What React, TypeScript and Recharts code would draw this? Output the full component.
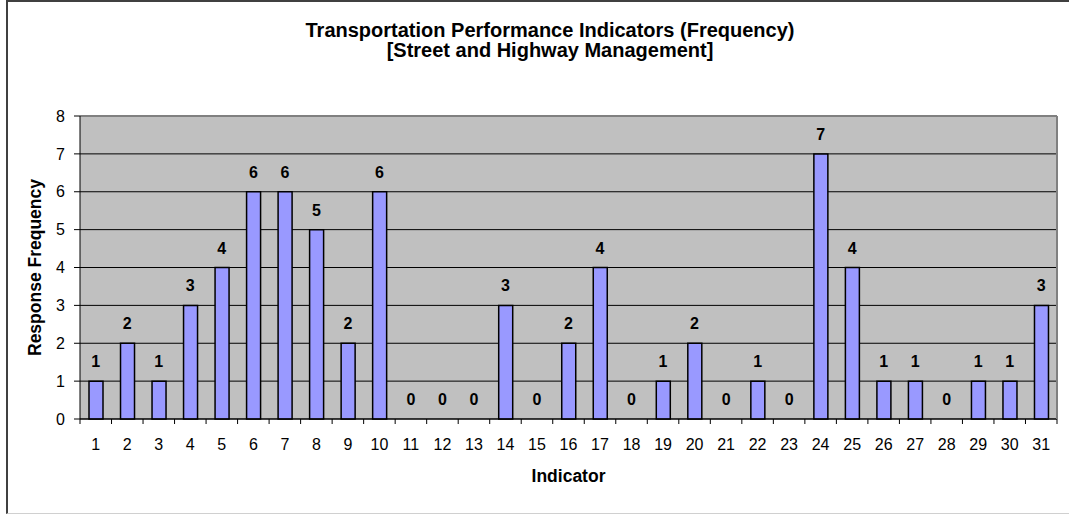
import React from 'react';
import { ComposedChart, Bar, Line, XAxis, YAxis, CartesianGrid, LabelList, ReferenceLine } from 'recharts';

const indicators = [1, 2, 3, 4, 5, 6, 7, 8, 9, 10, 11, 12, 13, 14, 15, 16, 17, 18, 19, 20, 21, 22, 23, 24, 25, 26, 27, 28, 29, 30, 31];
const frequency = [1, 2, 1, 3, 4, 6, 6, 5, 2, 6, 0, 0, 0, 3, 0, 2, 4, 0, 1, 2, 0, 1, 0, 7, 4, 1, 1, 0, 1, 1, 3];
const yTicks = [0, 1, 2, 3, 4, 5, 6, 7, 8];

const data = indicators.map((indicator, i) => ({ indicator, frequency: frequency[i] }));

// labels sit on the whole numbers, tick marks on the boundaries between them
const xTicks: number[] = [];
for (let i = 0; i <= indicators.length; i++) {
  xTicks.push(i + 0.5);
  if (i < indicators.length) xTicks.push(indicators[i]);
}

const FONT = '"Liberation Sans", Arial, sans-serif';
const TICK_MARGIN = 20;

const IndicatorTick = (props: any) => {
  const { x, y, payload } = props;
  const v = payload.value;
  if (Number.isInteger(v)) {
    return (
      <text x={x} y={y} dy="0.71em" textAnchor="middle" fontSize={16} fontFamily={FONT} fill="#000">
        {v}
      </text>
    );
  }
  return <line x1={x} x2={x} y1={y - TICK_MARGIN} y2={y - TICK_MARGIN + 5} stroke="#000" strokeWidth={1} />;
};

const App = () => {
  return (
    <div style={{ position: 'absolute', left: 0, top: 0, width: 1069, height: 515, background: '#fff', fontFamily: FONT }}>
      <div
        style={{
          position: 'absolute',
          left: 6,
          top: 0,
          width: 1063,
          height: 514,
          borderTop: '2px solid #404040',
          borderLeft: '2px solid #404040',
          borderBottom: '1px solid #d0d0d0',
          boxSizing: 'border-box',
        }}
      />
      <div
        style={{
          position: 'absolute',
          left: 30,
          top: 20,
          width: 1040,
          textAlign: 'center',
          fontSize: 20,
          lineHeight: '20px',
          fontWeight: 'bold',
          color: '#000',
        }}
      >
        Transportation Performance Indicators (Frequency)
        <br />
        [Street and Highway Management]
      </div>
      <ComposedChart
        width={1069}
        height={515}
        data={data}
        margin={{ top: 116, right: 11, bottom: 26, left: 0 }}
        style={{ position: 'absolute', left: 0, top: 0 }}
      >
        <CartesianGrid vertical={false} fill="#C0C0C0" stroke="#000" strokeWidth={1} />
        <XAxis
          dataKey="indicator"
          type="number"
          domain={[0.5, 31.5]}
          ticks={xTicks}
          interval={0}
          tickLine={false}
          tickSize={0}
          tickMargin={TICK_MARGIN}
          tick={<IndicatorTick />}
          axisLine={{ stroke: '#000', strokeWidth: 1 }}
          height={70}
          label={{ value: 'Indicator', position: 'center', dy: 22, fontSize: 17.5, fontWeight: 'bold', fill: '#000', fontFamily: FONT }}
        />
        <YAxis
          domain={[0, 8]}
          ticks={yTicks}
          interval={0}
          width={80}
          tickSize={6}
          tickMargin={9}
          tick={{ fontSize: 16, fill: '#000', fontFamily: FONT }}
          tickLine={{ stroke: '#000' }}
          axisLine={{ stroke: '#000', strokeWidth: 1 }}
          label={{ value: 'Response Frequency', angle: -90, position: 'center', dx: -5, fontSize: 17.5, fontWeight: 'bold', fill: '#000', fontFamily: FONT }}
        />
        <YAxis
          yAxisId="frame"
          orientation="right"
          domain={[0, 8]}
          width={1}
          tick={false}
          tickLine={false}
          axisLine={{ stroke: '#808080', strokeWidth: 2 }}
        />
        <ReferenceLine y={8} stroke="#808080" strokeWidth={2} />
        <Bar dataKey="frequency" fill="#9999FF" stroke="#000" strokeWidth={1.5} barSize={14} isAnimationActive={false} />
        {/* invisible line carries the value labels so the zero bars get theirs too */}
        <Line dataKey="frequency" stroke="none" dot={false} activeDot={false} isAnimationActive={false} legendType="none">
          <LabelList dataKey="frequency" position="top" offset={14} fontSize={16} fontWeight="bold" fill="#000" fontFamily={FONT} />
        </Line>
      </ComposedChart>
    </div>
  );
};

export default App;
